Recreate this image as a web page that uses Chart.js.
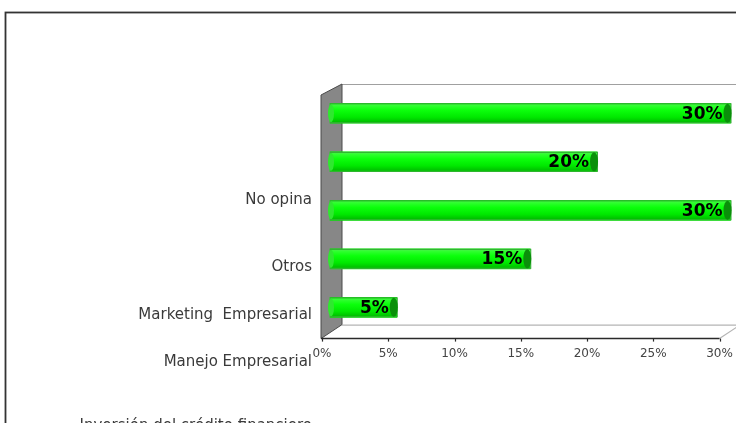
<!DOCTYPE html>
<html><head><meta charset="utf-8">
<script src="https://cdn.jsdelivr.net/npm/chart.js@4/dist/chart.umd.min.js"></script>
<style>html,body{margin:0;padding:0;background:#fff;overflow:hidden}#wrap{width:736px;height:423px;position:relative}</style>
</head><body><div id="wrap"><canvas id="c" width="736" height="423"></canvas></div>
<script>
// ---- data ----
const categories = ["No opina", "Otros", "Marketing  Empresarial", "Manejo Empresarial", "Inversión del crédito financiero"];
const values = [30, 20, 30, 15, 5];
const tickValues = [0, 5, 10, 15, 20, 25, 30];

// ---- layout / style constants ----
const labelY = [200, 267, 315, 362, 426];
const labelRight = 312;
const FONT = "'DejaVu Sans', Verdana, sans-serif";

const frame3d = {
  id: 'frame3d',
  beforeDraw(chart) {
    const ctx = chart.ctx, ca = chart.chartArea;
    ctx.save();
    ctx.fillStyle = '#fff';
    ctx.fillRect(0, 0, chart.width, chart.height);
    // outer border
    ctx.strokeStyle = '#333';
    ctx.lineWidth = 1.8;
    ctx.strokeRect(5.5, 12.5, 900, 600);

    const xt = chart.scales.xt;
    const fx = ca.left - 1, bx = ca.left + 20, depth = 14;
    const by = ca.top - 5, fyB = ca.bottom + 7, byB = fyB - depth;
    const x30 = xt.getPixelForValue(30);
    // back wall top edge
    ctx.strokeStyle = '#a0a0a0'; ctx.lineWidth = 1.2;
    ctx.beginPath(); ctx.moveTo(bx, by + 0.5); ctx.lineTo(chart.width + 5, by + 0.5); ctx.stroke();
    // floor back edge
    ctx.strokeStyle = '#b4b4b4';
    ctx.beginPath(); ctx.moveTo(bx, byB + 0.5); ctx.lineTo(chart.width + 5, byB + 0.5); ctx.stroke();
    // floor right diagonal
    ctx.beginPath(); ctx.moveTo(x30, fyB); ctx.lineTo(x30 + 21, byB); ctx.stroke();
    // left wall
    ctx.fillStyle = '#878787';
    ctx.strokeStyle = '#4a4a4a'; ctx.lineWidth = 1;
    ctx.beginPath();
    ctx.moveTo(fx, by + depth - 3);
    ctx.lineTo(bx, by);
    ctx.lineTo(bx, byB);
    ctx.lineTo(fx, fyB);
    ctx.closePath();
    ctx.fill(); ctx.stroke();
    // front axis line
    ctx.strokeStyle = '#2a2a2a'; ctx.lineWidth = 1.5;
    ctx.beginPath(); ctx.moveTo(fx, fyB); ctx.lineTo(x30, fyB); ctx.stroke();
    // tick marks
    ctx.lineWidth = 1.2;
    tickValues.forEach(v => {
      const px = Math.round(xt.getPixelForValue(v)) + 0.5;
      ctx.beginPath(); ctx.moveTo(px, fyB); ctx.lineTo(px, fyB + 3); ctx.stroke();
    });
    ctx.restore();
  },
  afterDatasetsDraw(chart) {
    const ctx = chart.ctx;
    const meta = chart.getDatasetMeta(0);
    ctx.save();
    meta.data.forEach((bar, i) => {
      const { x, y, base, height } = bar.getProps(['x', 'y', 'base', 'height'], true);
      const top = y - height / 2, bot = y + height / 2;
      const g = ctx.createLinearGradient(0, top, 0, bot);
      g.addColorStop(0, '#58e858');
      g.addColorStop(0.12, '#30ff30');
      g.addColorStop(0.35, '#0cff0c');
      g.addColorStop(0.7, '#00e800');
      g.addColorStop(1, '#00b400');
      ctx.fillStyle = g;
      ctx.fillRect(base, top + 1, x - base, height - 2);
      ctx.strokeStyle = '#3aa83a'; ctx.lineWidth = 1;
      ctx.strokeRect(base + 0.5, top + 0.5, x - base, height - 1);
      // left rounded cap
      ctx.fillStyle = '#2fe82f';
      ctx.beginPath(); ctx.ellipse(base + 1, y, 3, height / 2 - 1, 0, 0, Math.PI * 2); ctx.fill();
      // right end cap
      ctx.fillStyle = '#0a8f0a';
      ctx.beginPath(); ctx.ellipse(x - 3, y, 4, height / 2 - 0.5, 0, 0, Math.PI * 2); ctx.fill();
      // value label
      ctx.fillStyle = '#000';
      ctx.font = "bold 17px " + FONT;
      ctx.textAlign = 'right'; ctx.textBaseline = 'middle';
      ctx.fillText(values[i] + '%', x - 8, y + 1);
    });
    // category labels (displaced, as in the original)
    ctx.fillStyle = '#3a3a3a';
    ctx.font = "15px " + FONT;
    ctx.textAlign = 'right'; ctx.textBaseline = 'middle';
    categories.forEach((c, i) => ctx.fillText(c, labelRight, labelY[i]));
    ctx.restore();
  }
};

new Chart(document.getElementById('c'), {
  type: 'bar',
  data: {
    labels: categories,
    datasets: [{
      data: values,
      xAxisID: 'x', yAxisID: 'y',
      backgroundColor: '#00ee00',
      borderColor: '#3aa83a',
      borderWidth: 0,
      barThickness: 20
    }]
  },
  options: {
    indexAxis: 'y',
    responsive: false,
    animation: false,
    events: [],
    layout: { padding: { left: 322, right: 0, top: 89, bottom: 59 } },
    plugins: { legend: { display: false }, tooltip: { enabled: false } },
    scales: {
      y: { type: 'category', display: false, offset: true },
      x: { type: 'linear', display: false, min: -0.6, max: 30.07 },
      xt: {
        type: 'linear', axis: 'x', position: 'bottom', min: 0, max: 30.9,
        grid: { display: false, drawTicks: true, tickLength: 12 },
        border: { display: false },
        afterBuildTicks: s => { s.ticks = tickValues.map(v => ({ value: v })); },
        ticks: {
          padding: 3, color: '#444',
          font: { family: FONT, size: 12 },
          callback: v => v + '%'
        }
      }
    }
  },
  plugins: [frame3d]
});
</script></body></html>
